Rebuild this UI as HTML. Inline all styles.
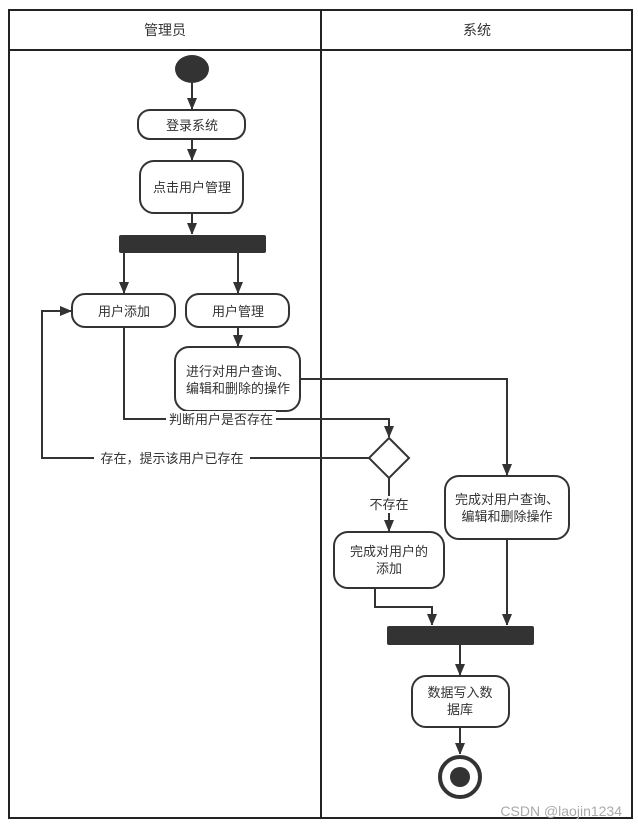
<!DOCTYPE html>
<html><head><meta charset="utf-8"><style>
body{margin:0;background:#fff}
svg{display:block}
text{font-family:"Liberation Sans","Noto Sans CJK SC",sans-serif;font-size:13px;fill:#333}
</style></head><body>
<svg width="638" height="830" viewBox="0 0 638 830" xmlns="http://www.w3.org/2000/svg">
<defs><marker id="a" markerWidth="10" markerHeight="12" refX="11" refY="5" orient="auto" markerUnits="userSpaceOnUse"><path d="M0,0 L12,5 L0,10 z" fill="#333"/></marker></defs>
<g stroke="#222" stroke-width="2" fill="none">
<rect x="9" y="10" width="623" height="808"/>
<line x1="9" y1="50" x2="632" y2="50"/>
<line x1="321" y1="10" x2="321" y2="818"/>
</g>
<text x="165" y="35" text-anchor="middle" style="font-size:14px">管理员</text>
<text x="477" y="35" text-anchor="middle" style="font-size:14px">系统</text>
<ellipse cx="192" cy="69" rx="17" ry="14" fill="#333"/>
<g stroke="#333" stroke-width="2" fill="none" marker-end="url(#a)">
<line x1="192" y1="83" x2="192" y2="109"/>
<line x1="192" y1="139" x2="192" y2="160"/>
<line x1="192" y1="213" x2="192" y2="234"/>
<line x1="124" y1="253" x2="124" y2="293"/>
<line x1="238" y1="253" x2="238" y2="293"/>
<line x1="238" y1="327" x2="238" y2="346"/>
<polyline points="124,327 124,419 389,419 389,437"/>
<polyline points="369,458 42,458 42,311 71,311"/>
<line x1="389" y1="478" x2="389" y2="531"/>
<polyline points="300,379 507,379 507,475"/>
<line x1="507" y1="539" x2="507" y2="625"/>
<polyline points="375,588 375,607 432,607 432,625"/>
<line x1="460" y1="645" x2="460" y2="675"/>
<line x1="460" y1="727" x2="460" y2="754"/>
</g>
<g stroke="#333" stroke-width="2" fill="#fff">
<rect x="138" y="110" width="107" height="29" rx="12"/>
<rect x="140" y="161" width="103" height="52" rx="14"/>
<rect x="72" y="294" width="103" height="33" rx="13"/>
<rect x="186" y="294" width="103" height="33" rx="13"/>
<rect x="175" y="347" width="125" height="64" rx="14"/>
<polygon points="389,438 409,458 389,478 369,458"/>
<rect x="334" y="532" width="110" height="56" rx="14"/>
<rect x="445" y="476" width="124" height="63" rx="14"/>
<rect x="412" y="676" width="97" height="51" rx="14"/>
</g>
<rect x="119" y="235" width="147" height="18" rx="2" fill="#333"/>
<rect x="387" y="626" width="147" height="19" rx="2" fill="#333"/>
<circle cx="460" cy="777" r="20" fill="#fff" stroke="#333" stroke-width="4"/>
<circle cx="460" cy="777" r="10" fill="#333"/>
<rect x="166" y="411" width="110" height="16" fill="#fff"/>
<rect x="94" y="450" width="156" height="16" fill="#fff"/>
<rect x="367" y="496" width="44" height="17" fill="#fff"/>
<g text-anchor="middle">
<text x="192" y="130">登录系统</text>
<text x="192" y="192">点击用户管理</text>
<text x="124" y="316">用户添加</text>
<text x="238" y="316">用户管理</text>
<text x="238" y="376">进行对用户查询、</text>
<text x="238" y="393">编辑和删除的操作</text>
<text x="221" y="424">判断用户是否存在</text>
<text x="172" y="463">存在，提示该用户已存在</text>
<text x="389" y="509">不存在</text>
<text x="389" y="556">完成对用户的</text>
<text x="389" y="573">添加</text>
<text x="507" y="504">完成对用户查询、</text>
<text x="507" y="521">编辑和删除操作</text>
<text x="460" y="697">数据写入数</text>
<text x="460" y="714">据库</text>
</g>
<text x="622" y="816" text-anchor="end" style="font-size:14px;fill:#aaa">CSDN @laojin1234</text>
</svg>
</body></html>
